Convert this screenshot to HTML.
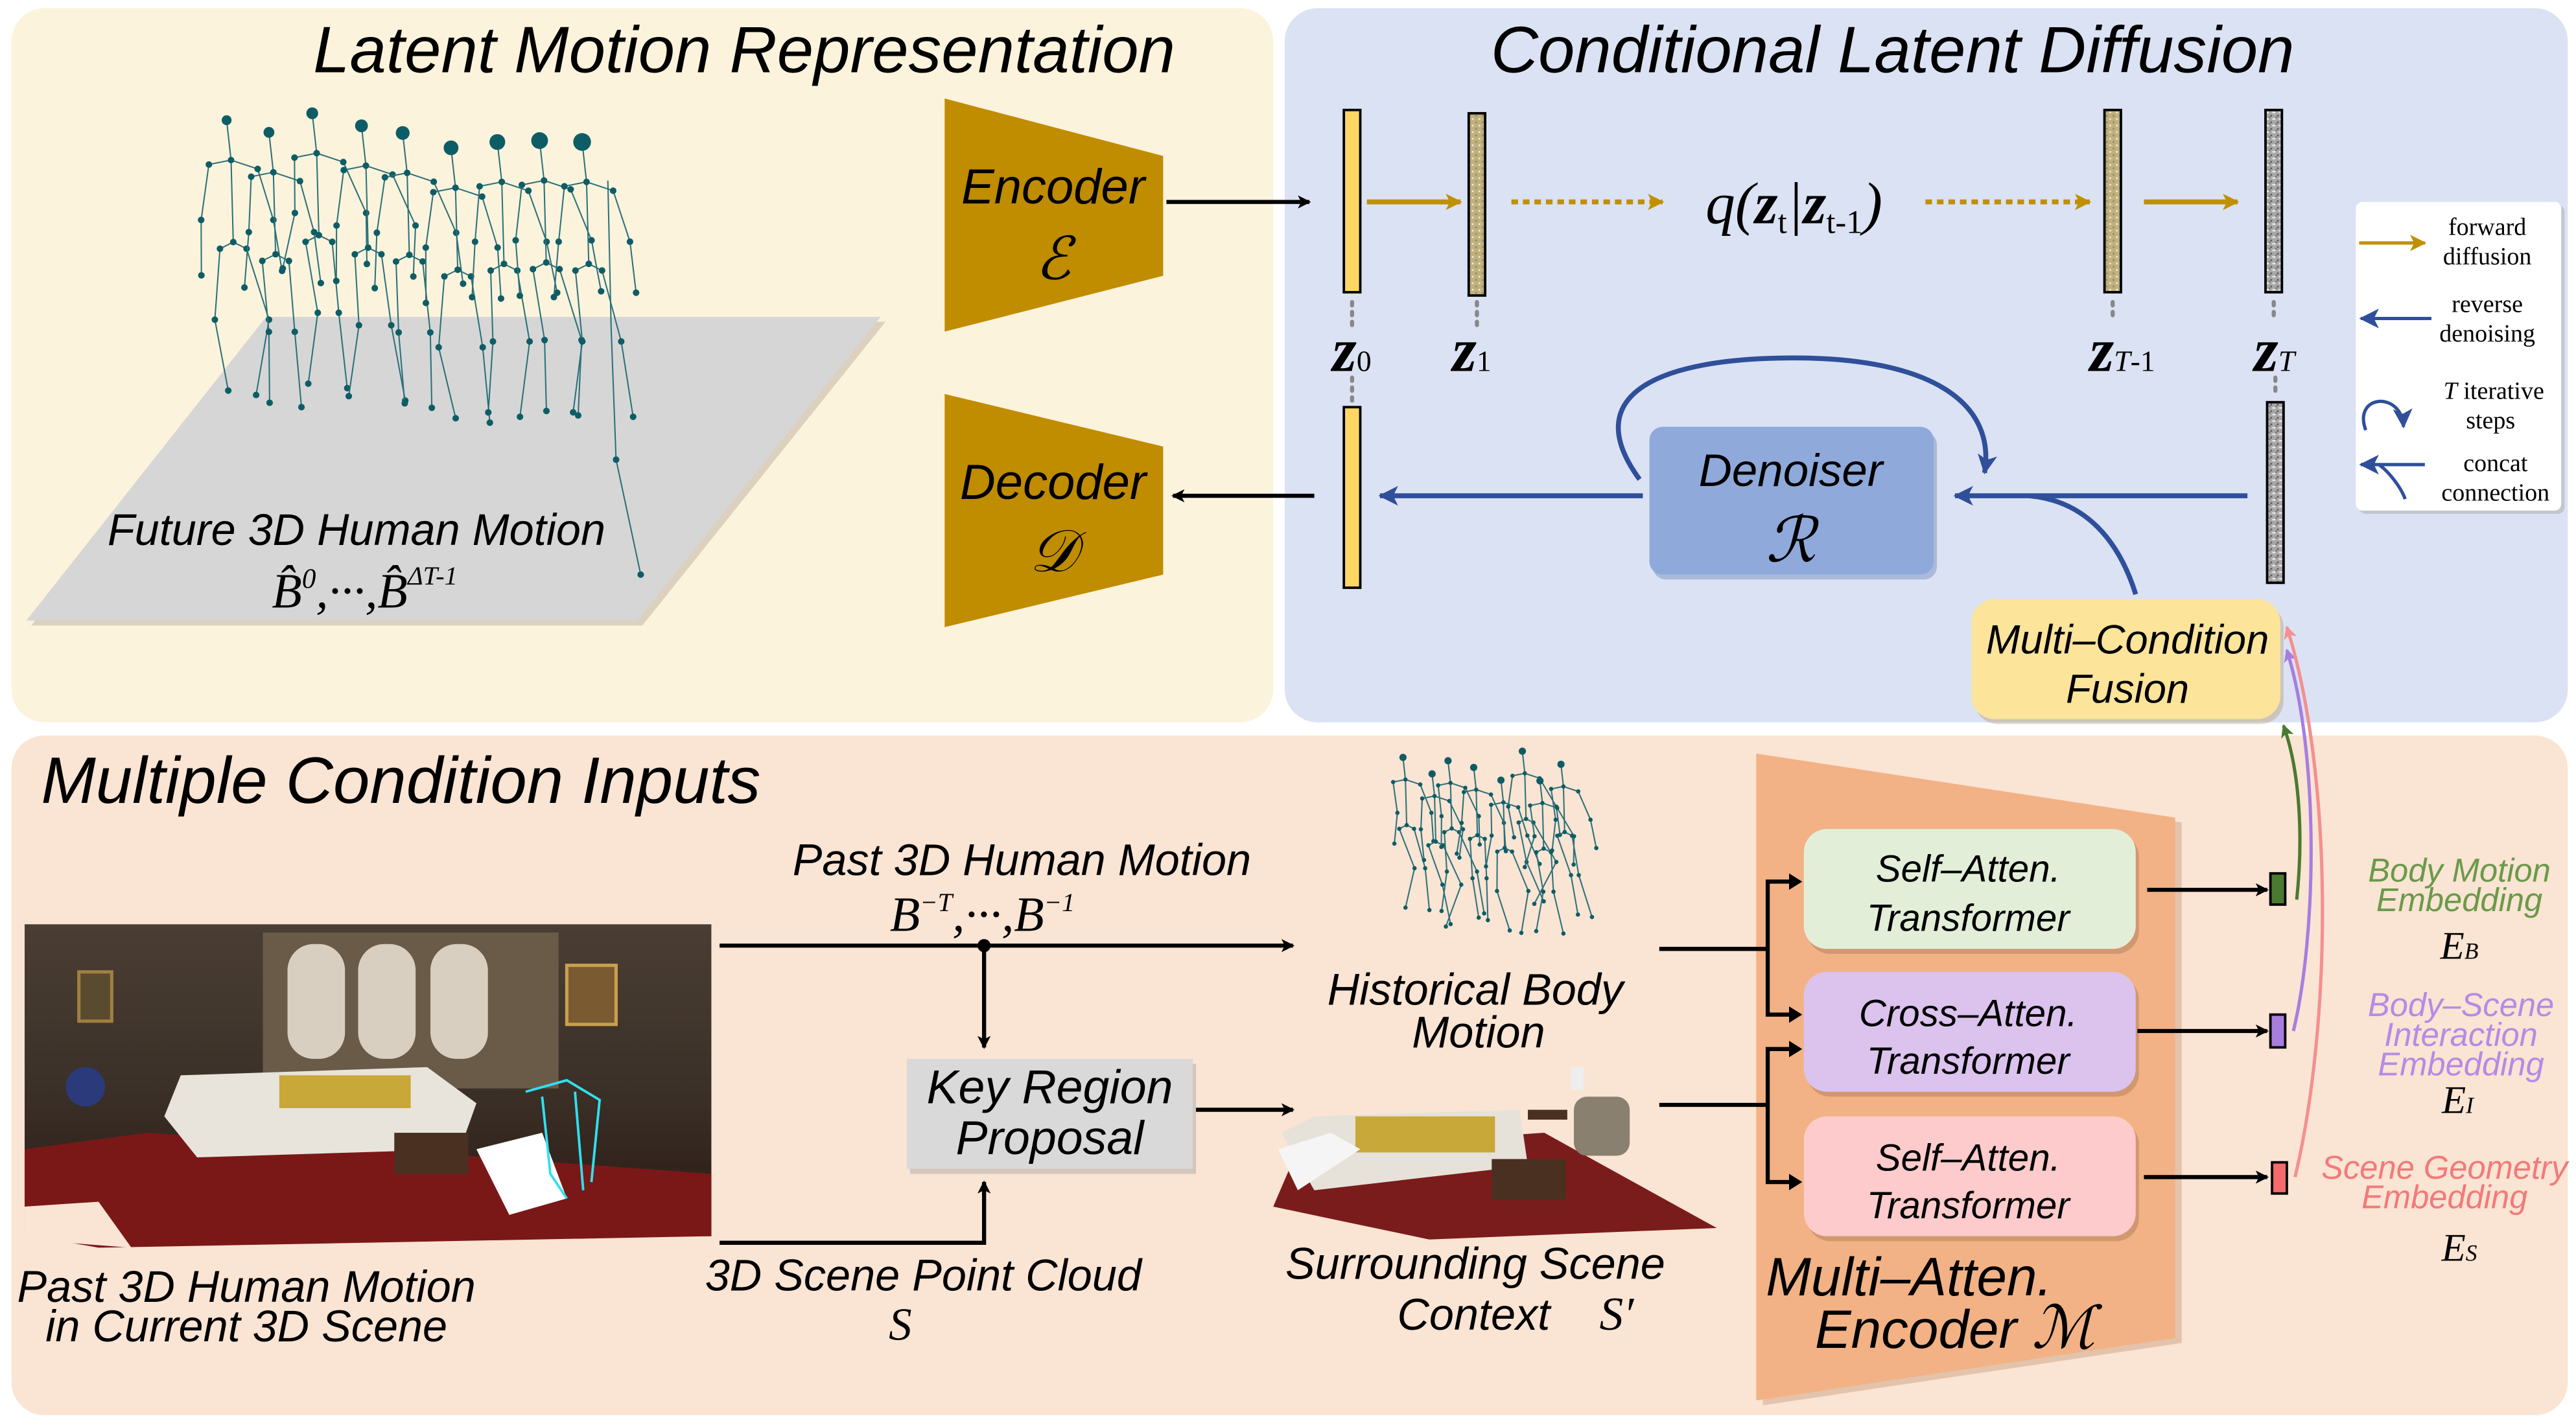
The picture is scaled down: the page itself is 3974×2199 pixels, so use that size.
<!DOCTYPE html>
<html><head><meta charset="utf-8"><style>
html,body{margin:0;padding:0;background:#fff;}
svg{display:block;}
.it{font-family:"Liberation Sans","DejaVu Sans",sans-serif;font-style:italic;}
.m{font-family:"Liberation Serif","DejaVu Serif",serif;font-style:italic;}
.r{font-family:"Liberation Serif","DejaVu Serif",serif;}
</style></head><body>
<svg id="s" width="3974" height="2199" viewBox="0 0 1568 868" preserveAspectRatio="none" xmlns="http://www.w3.org/2000/svg">
<defs>
<marker id="ak" markerWidth="8" markerHeight="8" refX="7" refY="4" orient="auto" markerUnits="userSpaceOnUse"><path d="M0,0 L8,4 L0,8 L2,4Z" fill="#000"/></marker>
<marker id="ag" markerWidth="10" markerHeight="10" refX="9" refY="5" orient="auto" markerUnits="userSpaceOnUse"><path d="M0,0 L10,5 L0,10 L2.5,5Z" fill="#c09000"/></marker>
<marker id="ab" markerWidth="12" markerHeight="12" refX="11" refY="6" orient="auto" markerUnits="userSpaceOnUse"><path d="M0,0 L12,6 L0,12 L3,6Z" fill="#2f4f9a"/></marker>
<marker id="agr" markerWidth="8" markerHeight="8" refX="7" refY="4" orient="auto" markerUnits="userSpaceOnUse"><path d="M0,0 L8,4 L0,8 L2,4Z" fill="#4a7a30"/></marker>
<marker id="apu" markerWidth="8" markerHeight="8" refX="7" refY="4" orient="auto" markerUnits="userSpaceOnUse"><path d="M0,0 L8,4 L0,8 L2,4Z" fill="#a77de0"/></marker>
<marker id="api" markerWidth="8" markerHeight="8" refX="7" refY="4" orient="auto" markerUnits="userSpaceOnUse"><path d="M0,0 L8,4 L0,8 L2,4Z" fill="#f39090"/></marker>
<pattern id="nz" width="4" height="4" patternUnits="userSpaceOnUse"><rect width="4" height="4" fill="#a8a8a8"/><rect width="1" height="1" fill="#eee"/><rect x="2" y="2" width="1" height="1" fill="#555"/><rect x="3" y="0" width="1" height="1" fill="#ddd"/><rect x="1" y="3" width="1" height="1" fill="#777"/></pattern>
<pattern id="nz2" width="4" height="4" patternUnits="userSpaceOnUse"><rect width="4" height="4" fill="#c0b07a"/><rect width="1" height="1" fill="#eee"/><rect x="2" y="2" width="1" height="1" fill="#887"/></pattern>
<linearGradient id="room" x1="0" y1="0" x2="0" y2="1"><stop offset="0" stop-color="#4a3e34"/><stop offset="0.5" stop-color="#3c3128"/><stop offset="1" stop-color="#2a1a14"/></linearGradient>
</defs>
<rect width="1568" height="868" fill="#fff"/>
<rect x="7" y="5" width="768" height="435" rx="20" fill="#fcf3dc"/>
<rect x="782" y="5" width="781" height="435" rx="20" fill="#dbe2f3"/>
<rect x="7" y="448" width="1556" height="414" rx="20" fill="#fae4d3"/>
<text x="453" y="44" text-anchor="middle" class="it" font-size="40">Latent Motion Representation</text>
<text x="1152" y="44" text-anchor="middle" class="it" font-size="40">Conditional Latent Diffusion</text>
<text x="25" y="489" class="it" font-size="40">Multiple Condition Inputs</text>

<polygon points="165,196 539,196 391,381 19,381" fill="#b9b0a0" opacity="0.5"/>
<polygon points="162,193 536,193 388,378 16,378" fill="#d6d6d6"/>
<g id="skel1"></g>
<text x="217" y="332" text-anchor="middle" class="it" font-size="27">Future 3D Human Motion</text>
<text x="222" y="370" text-anchor="middle" class="m" font-size="30">B̂<tspan font-size="17" dy="-12">0</tspan><tspan dy="12">,···,B̂</tspan><tspan font-size="16" dy="-14">ΔT-1</tspan></text>

<polygon points="575,60 708,95 708,168 575,202" fill="#c08c00"/>
<text x="641" y="124" text-anchor="middle" class="it" font-size="30">Encoder</text>
<text x="641" y="170" text-anchor="middle" class="m" font-size="36">ℰ</text>
<polygon points="575,240 708,272 708,350 575,382" fill="#c08c00"/>
<text x="641" y="304" text-anchor="middle" class="it" font-size="30">Decoder</text>
<text x="641" y="348" text-anchor="middle" class="m" font-size="36">𝒟</text>
<line x1="710" y1="123" x2="797" y2="123" stroke="#000" stroke-width="2.5" marker-end="url(#ak)"/>
<line x1="800" y1="302" x2="714" y2="302" stroke="#000" stroke-width="2.5" marker-end="url(#ak)"/>

<rect x="818" y="67" width="10" height="111" fill="#fdd663" stroke="#000" stroke-width="1.5"/>
<rect x="894" y="69" width="10" height="111" fill="url(#nz2)" stroke="#000" stroke-width="1.5"/>
<rect x="1281" y="67" width="10" height="111" fill="url(#nz2)" stroke="#000" stroke-width="1.5"/>
<rect x="1379" y="67" width="10" height="111" fill="url(#nz)" stroke="#000" stroke-width="1.5"/>
<rect x="818" y="248" width="10" height="110" fill="#fdd663" stroke="#000" stroke-width="1.5"/>
<rect x="1380" y="245" width="10" height="110" fill="url(#nz)" stroke="#000" stroke-width="1.5"/>
<g stroke="#888" stroke-width="2.5" stroke-dasharray="2,4" stroke-linecap="round">
<line x1="823" y1="184" x2="823" y2="200"/><line x1="823" y1="230" x2="823" y2="245"/>
<line x1="899" y1="184" x2="899" y2="200"/><line x1="1286" y1="184" x2="1286" y2="196"/>
<line x1="1384" y1="184" x2="1384" y2="196"/><line x1="1385" y1="230" x2="1385" y2="242"/>
</g>
<g class="m" font-size="38" font-weight="bold">
<text x="811" y="226">z<tspan font-size="18" font-weight="normal" font-style="normal">0</tspan></text>
<text x="884" y="226">z<tspan font-size="18" font-weight="normal" font-style="normal">1</tspan></text>
<text x="1272" y="226">z<tspan font-size="18" font-weight="normal">T</tspan><tspan font-size="18" font-weight="normal" font-style="normal">-1</tspan></text>
<text x="1372" y="226">z<tspan font-size="18" font-weight="normal">T</tspan></text>
</g>
<line x1="832" y1="123" x2="889" y2="123" stroke="#c09000" stroke-width="3" marker-end="url(#ag)"/>
<line x1="920" y1="123" x2="1012" y2="123" stroke="#c09000" stroke-width="3" stroke-dasharray="4,3" marker-end="url(#ag)"/>
<line x1="1172" y1="123" x2="1272" y2="123" stroke="#c09000" stroke-width="3" stroke-dasharray="4,3" marker-end="url(#ag)"/>
<line x1="1305" y1="123" x2="1362" y2="123" stroke="#c09000" stroke-width="3" marker-end="url(#ag)"/>
<text x="1092" y="136" text-anchor="middle" class="m" font-size="36">q(<tspan font-weight="bold">z</tspan><tspan font-size="20" font-style="normal" dy="6">t</tspan><tspan dy="-6">|</tspan><tspan font-weight="bold">z</tspan><tspan font-size="20" font-style="normal" dy="6">t-1</tspan><tspan dy="-6">)</tspan></text>

<rect x="1006" y="263" width="173" height="90" rx="8" fill="#8aa0c8" opacity="0.6"/>
<rect x="1004" y="260" width="173" height="90" rx="8" fill="#8fa9db"/>
<text x="1090" y="296" text-anchor="middle" class="it" font-size="28">Denoiser</text>
<text x="1090" y="342" text-anchor="middle" class="m" font-size="38">ℛ</text>
<line x1="1000" y1="302" x2="840" y2="302" stroke="#2f4f9a" stroke-width="3" marker-end="url(#ab)"/>
<line x1="1368" y1="302" x2="1190" y2="302" stroke="#2f4f9a" stroke-width="3" marker-end="url(#ab)"/>
<path d="M1300,362 C1290,330 1270,305 1235,302" fill="none" stroke="#2f4f9a" stroke-width="3"/>
<path d="M998,292 C960,240 1010,218 1092,218 C1175,218 1215,245 1208,288" fill="none" stroke="#2f4f9a" stroke-width="3" marker-end="url(#ab)"/>

<rect x="1436" y="125" width="125" height="188" rx="4" fill="#aaa" opacity="0.5"/>
<rect x="1434" y="123" width="125" height="188" rx="4" fill="#fff"/>
<g class="r" font-size="15" text-anchor="middle">
<text x="1514" y="143">forward</text><text x="1514" y="161">diffusion</text>
<text x="1514" y="190">reverse</text><text x="1514" y="208">denoising</text>
<text x="1518" y="243"><tspan font-style="italic">T</tspan> iterative</text><text x="1516" y="261">steps</text>
<text x="1519" y="287">concat</text><text x="1519" y="305">connection</text>
</g>
<line x1="1436" y1="148" x2="1476" y2="148" stroke="#c09000" stroke-width="2" marker-end="url(#ag)"/>
<line x1="1480" y1="194" x2="1437" y2="194" stroke="#2f4f9a" stroke-width="2" marker-end="url(#ab)"/>
<path d="M1440,262 C1432,240 1462,238 1463,260" fill="none" stroke="#2f4f9a" stroke-width="2" marker-end="url(#ab)"/>
<line x1="1476" y1="283" x2="1437" y2="283" stroke="#2f4f9a" stroke-width="2" marker-end="url(#ab)"/>
<path d="M1448,283 C1455,288 1462,298 1464,304" fill="none" stroke="#2f4f9a" stroke-width="2"/>

<rect x="1202" y="368" width="188" height="73" rx="14" fill="#b09060" opacity="0.35"/>
<rect x="1200" y="365" width="188" height="73" rx="14" fill="#fde49b"/>
<text x="1295" y="398" text-anchor="middle" class="it" font-size="25">Multi–Condition</text>
<text x="1295" y="428" text-anchor="middle" class="it" font-size="25">Fusion</text>

<g>
<rect x="15" y="563" width="418" height="190" fill="url(#room)"/>
<rect x="160" y="568" width="180" height="95" fill="#6a5a48"/>
<rect x="175" y="575" width="35" height="70" rx="16" fill="#d8cfc0"/>
<rect x="218" y="575" width="35" height="70" rx="16" fill="#d8cfc0"/>
<rect x="262" y="575" width="35" height="70" rx="16" fill="#d8cfc0"/>
<rect x="345" y="588" width="30" height="36" fill="#7a5a30" stroke="#c8a050" stroke-width="2"/>
<rect x="48" y="592" width="20" height="30" fill="#5a4a30" stroke="#a08040" stroke-width="2"/>
<polygon points="60,760 15,752 15,700 90,690 230,700 433,715 433,753" fill="#7a1818"/>
<polygon points="110,655 260,650 290,672 280,700 120,705 100,680" fill="#e8e4dc"/>
<rect x="170" y="655" width="80" height="20" fill="#c8a838"/>
<rect x="240" y="690" width="45" height="25" fill="#4a3020"/>
<polygon points="80,760 15,755 15,735 60,732" fill="#fae4d3"/>
<polygon points="290,700 330,690 345,730 310,740" fill="#fff"/>
<circle cx="52" cy="662" r="12" fill="#2a3a7a"/>
<g stroke="#30e0f0" stroke-width="1.5" fill="none"><path d="M320,665 L345,658 L365,670 L360,720 M330,668 L335,715 L345,730 M350,665 L355,725"/></g>
</g>
<text x="150" y="793" text-anchor="middle" class="it" font-size="27">Past 3D Human Motion</text>
<text x="150" y="817" text-anchor="middle" class="it" font-size="27">in Current 3D Scene</text>

<line x1="438" y1="576" x2="787" y2="576" stroke="#000" stroke-width="2.5" marker-end="url(#ak)"/>
<circle cx="599" cy="576" r="4" fill="#000"/>
<line x1="599" y1="576" x2="599" y2="638" stroke="#000" stroke-width="2.5" marker-end="url(#ak)"/>
<text x="622" y="533" text-anchor="middle" class="it" font-size="27">Past 3D Human Motion</text>
<text x="598" y="567" text-anchor="middle" class="m" font-size="30">B<tspan font-size="16" dy="-12">−T</tspan><tspan dy="12">,···,B</tspan><tspan font-size="16" dy="-12">−1</tspan></text>
<rect x="554" y="648" width="174" height="67" fill="#999" opacity="0.4"/>
<rect x="552" y="645" width="174" height="67" fill="#d9d9d9"/>
<text x="639" y="672" text-anchor="middle" class="it" font-size="29">Key Region</text>
<text x="639" y="703" text-anchor="middle" class="it" font-size="29">Proposal</text>
<polyline points="438,757 599,757 599,720" fill="none" stroke="#000" stroke-width="2.5" marker-end="url(#ak)"/>
<line x1="728" y1="676" x2="787" y2="676" stroke="#000" stroke-width="2.5" marker-end="url(#ak)"/>
<text x="562" y="786" text-anchor="middle" class="it" font-size="27">3D Scene Point Cloud</text>
<text x="548" y="816" text-anchor="middle" class="m" font-size="28">S</text>

<g id="skel2"></g>
<text x="898" y="612" text-anchor="middle" class="it" font-size="27">Historical Body</text>
<text x="900" y="638" text-anchor="middle" class="it" font-size="27">Motion</text>
<g>
<polygon points="790,700 940,690 1045,748 870,755 775,735" fill="#7a1c1c"/>
<polygon points="780,690 800,680 925,676 930,710 800,725" fill="#e6e2da"/>
<rect x="825" y="680" width="85" height="22" fill="#c8a838"/>
<rect x="908" y="706" width="45" height="25" fill="#4a3020"/>
<polygon points="778,700 810,690 828,700 790,725" fill="#f5f5f5"/>
<rect x="958" y="668" width="34" height="36" rx="8" fill="#8a8070"/>
<rect x="930" y="676" width="24" height="6" fill="#4a3020"/>
<rect x="956" y="650" width="8" height="14" fill="#eee"/>
</g>
<text x="898" y="779" text-anchor="middle" class="it" font-size="27">Surrounding Scene</text>
<text x="897" y="810" text-anchor="middle" class="it" font-size="27">Context</text>
<text x="984" y="810" text-anchor="middle" class="m" font-size="29">S′</text>

<polygon points="1073,462 1328,501 1328,818 1073,856" fill="#c09070" opacity="0.4"/>
<polygon points="1069,459 1324,498 1324,815 1069,853" fill="#f2b285"/>
<g fill="none" stroke="#000" stroke-width="2.5">
<polyline points="1010,578 1076,578"/><polyline points="1094,537 1076,537 1076,618 1094,618"/>
<polyline points="1010,673 1076,673"/><polyline points="1094,639 1076,639 1076,720 1094,720"/>
</g>
<g fill="#000"><path d="M1097,537 l-8,-5 v10z"/><path d="M1097,618 l-8,-5 v10z"/><path d="M1097,639 l-8,-5 v10z"/><path d="M1097,720 l-8,-5 v10z"/></g>
<g>
<rect x="1100" y="508" width="202" height="73" rx="14" fill="#a07050" opacity="0.4"/>
<rect x="1098" y="505" width="202" height="73" rx="14" fill="#e3eed9"/>
<rect x="1100" y="595" width="202" height="73" rx="14" fill="#a07050" opacity="0.4"/>
<rect x="1098" y="592" width="202" height="73" rx="14" fill="#dbc3ee"/>
<rect x="1100" y="683" width="202" height="73" rx="14" fill="#a07050" opacity="0.4"/>
<rect x="1098" y="680" width="202" height="73" rx="14" fill="#fdcbcb"/>
</g>
<g class="it" font-size="23" text-anchor="middle">
<text x="1198" y="537">Self–Atten.</text><text x="1198" y="567">Transformer</text>
<text x="1198" y="625">Cross–Atten.</text><text x="1198" y="654">Transformer</text>
<text x="1198" y="713">Self–Atten.</text><text x="1198" y="742">Transformer</text>
</g>
<text x="1162" y="789" text-anchor="middle" class="it" font-size="33">Multi–Atten.</text>
<text x="1190" y="821" text-anchor="middle" class="it" font-size="33">Encoder <tspan class="m" font-size="36">ℳ</tspan></text>

<g stroke="#000" stroke-width="2.5">
<line x1="1307" y1="542" x2="1380" y2="542" marker-end="url(#ak)"/>
<line x1="1301" y1="628" x2="1380" y2="628" marker-end="url(#ak)"/>
<line x1="1305" y1="717" x2="1380" y2="717" marker-end="url(#ak)"/>
</g>
<rect x="1382" y="532" width="9" height="19" fill="#4a7a30" stroke="#000" stroke-width="1.5"/>
<rect x="1382" y="618" width="9" height="20" fill="#a77de0" stroke="#000" stroke-width="1.5"/>
<rect x="1383" y="708" width="9" height="19" fill="#f56a6a" stroke="#000" stroke-width="1.5"/>
<path d="M1398,548 C1402,510 1400,470 1390,442" fill="none" stroke="#4a7a30" stroke-width="2" marker-end="url(#agr)"/>
<path d="M1396,628 C1410,570 1412,460 1392,396" fill="none" stroke="#a77de0" stroke-width="2" marker-end="url(#apu)"/>
<path d="M1397,717 C1420,620 1420,470 1392,382" fill="none" stroke="#f39090" stroke-width="2" marker-end="url(#api)"/>
<g class="it" font-size="20" text-anchor="middle">
<text x="1497" y="537" fill="#6a9a4a">Body Motion</text><text x="1497" y="555" fill="#6a9a4a">Embedding</text>
<text x="1498" y="619" fill="#b68ae6">Body–Scene</text><text x="1498" y="637" fill="#b68ae6">Interaction</text><text x="1498" y="655" fill="#b68ae6">Embedding</text>
<text x="1488" y="718" fill="#f27a7a">Scene Geometry</text><text x="1488" y="736" fill="#f27a7a">Embedding</text>
</g>
<g class="m" font-size="24" text-anchor="middle">
<text x="1497" y="584">E<tspan font-size="14">B</tspan></text>
<text x="1496" y="678">E<tspan font-size="14">I</tspan></text>
<text x="1497" y="768">E<tspan font-size="14">S</tspan></text>
</g>
</svg>
<script>
function skel(g,ox,oy,sc,n,seed,big,sp){
 var s=seed,out="";
 function r(){s=(s*9301+49297)%233280;return s/233280;}
 for(var i=0;i<n;i++){
  var x=ox+i*sp+r()*6,y=oy+r()*20+(big?i*3:0);
  var h=sc;
  var head=[x,y],neck=[x+2*h,y+18*h],sh1=[x-8*h,y+20*h],sh2=[x+14*h,y+22*h],
  el1=[x-12*h+r()*6,y+45*h],el2=[x+20*h+r()*6,y+45*h],wr1=[x-14*h+r()*8,y+70*h],wr2=[x+22*h+r()*8,y+68*h],
  pel=[x+3*h,y+55*h],hp1=[x-3*h,y+58*h],hp2=[x+9*h,y+58*h],kn1=[x-6*h+r()*12,y+90*h],kn2=[x+10*h+r()*14,y+90*h],
  an1=[x-8*h+r()*20,y+122*h],an2=[x+6*h+r()*24,y+124*h];
  var segs=[[head,neck],[neck,sh1],[neck,sh2],[sh1,el1],[el1,wr1],[sh2,el2],[el2,wr2],[neck,pel],[pel,hp1],[pel,hp2],[hp1,kn1],[kn1,an1],[hp2,kn2],[kn2,an2]];
  segs.forEach(function(q){out+='<line x1="'+q[0][0]+'" y1="'+q[0][1]+'" x2="'+q[1][0]+'" y2="'+q[1][1]+'" stroke="#2a7078" stroke-width="0.8"/>';});
  [neck,sh1,sh2,el1,el2,wr1,wr2,pel,hp1,hp2,kn1,kn2,an1,an2].forEach(function(p){out+='<circle cx="'+p[0]+'" cy="'+p[1]+'" r="'+(big?2:1.3)+'" fill="#0e5c66"/>';});
  out+='<circle cx="'+head[0]+'" cy="'+head[1]+'" r="'+(big?3+i*0.3:2.2)+'" fill="#0e5c66"/>';
 }
 if(big){out+='<polyline points="370,110 372,200 375,280 390,350" fill="none" stroke="#2a7078" stroke-width="0.8"/><circle cx="375" cy="280" r="2" fill="#0e5c66"/><circle cx="390" cy="350" r="2" fill="#0e5c66"/>';}
 document.getElementById(g).innerHTML=out;
}
skel("skel1",135,62,1.35,9,7,true,27);
skel("skel2",852,457,0.75,8,3,false,14);
</script>
</body></html>
